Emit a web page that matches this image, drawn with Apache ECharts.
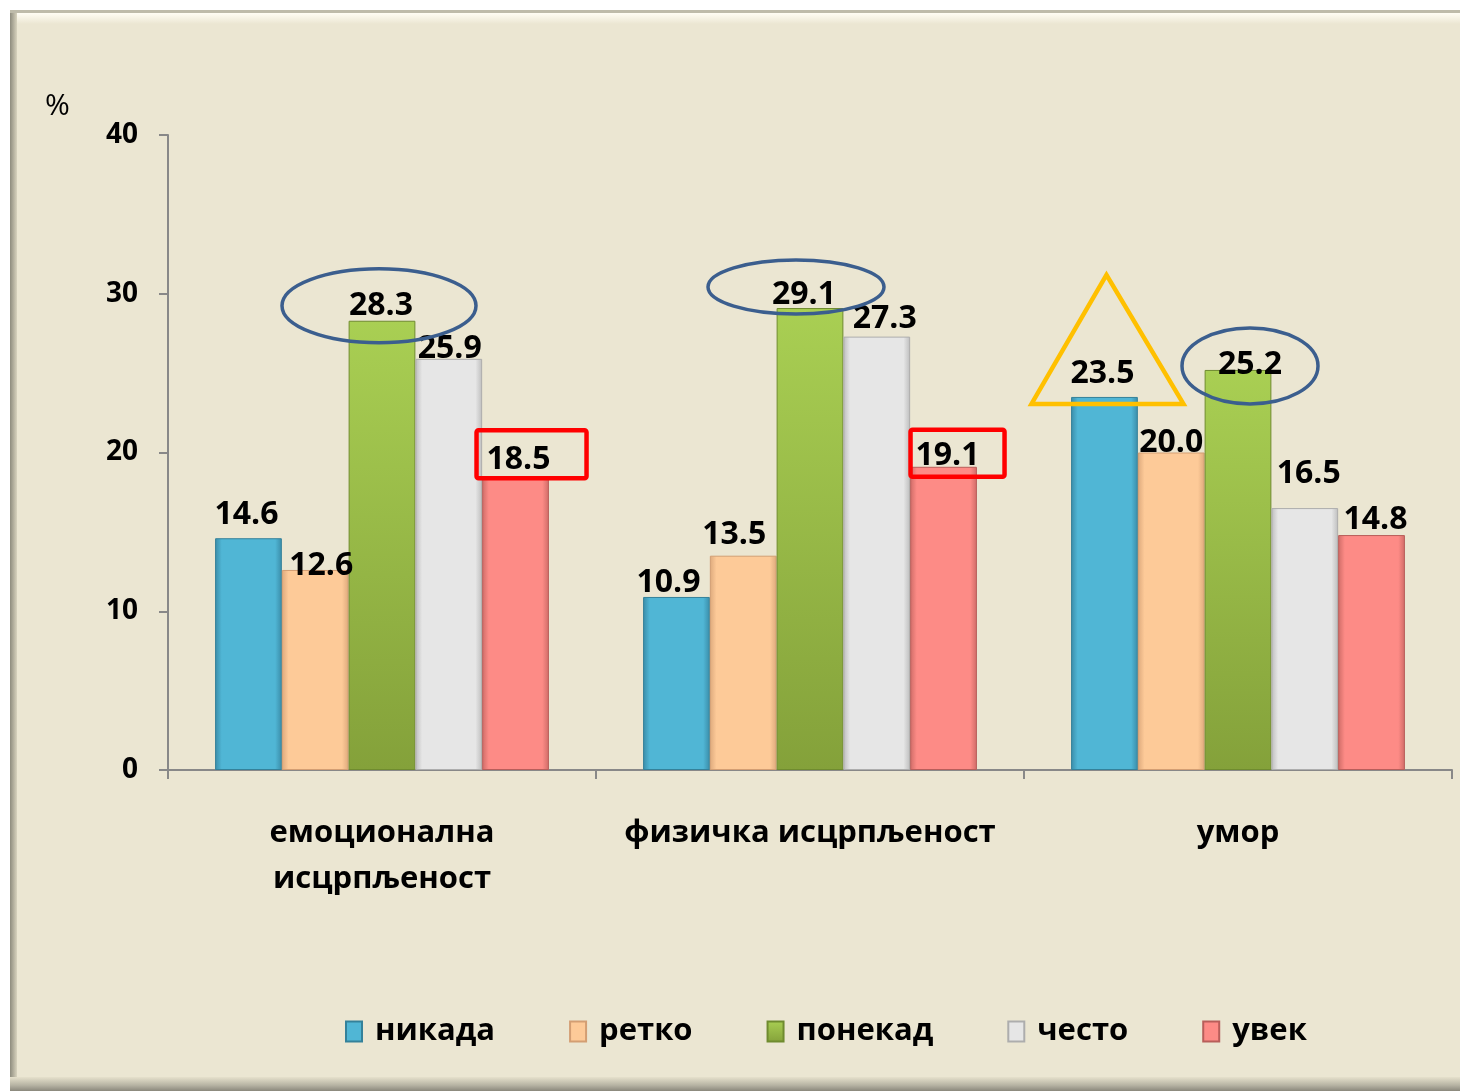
<!DOCTYPE html>
<html>
<head>
<meta charset="utf-8">
<script src="https://cdn.jsdelivr.net/npm/echarts@6/dist/echarts.min.js"></script>
<style>
html,body{margin:0;padding:0;background:#ffffff;}
#chart{width:1460px;height:1091px;}
</style>
</head>
<body>
<div id="chart"></div>
<script>
// ---- data ----
const categories = ['емоционална\nисцрпљеност', 'физичка исцрпљеност', 'умор'];
const seriesNames = ['никада', 'ретко', 'понекад', 'често', 'увек'];
const nikada  = [14.6, 10.9, 23.5];
const retko   = [12.6, 13.5, 20.0];
const ponekad = [28.3, 29.1, 25.2];
const cesto   = [25.9, 27.3, 16.5];
const uvek    = [18.5, 19.1, 14.8];
const yTicks  = [0, 10, 20, 30, 40];

const seriesValues = [nikada, retko, ponekad, cesto, uvek];

// ---- styles ----
const FONT = 'Open Sans';
// per-label nudges (pixels) to mimic the hand-placed labels of the original
const labelNudges = [
  [[-2,-11], [-8,-2], [-2,-11]],
  [[6,8],    [-9,-9], [0,2]],
  [[-1,-3],  [-6,-1], [12,7]],
  [[1,2],    [8,-6],  [4,-22]],
  [[3,-4],   [4,1],   [4,-3]]
];
const palette = [
  {base:'#50B6D5', dark:'#3A8CA8', border:'#34819A'},
  {base:'#FDCA98', dark:'#DDA97C', border:'#D39E73'},
  {base:'#A2C74E', dark:'#84A23A', border:'#6F8B2F'},
  {base:'#E6E6E6', dark:'#BDBDBD', border:'#ADADAD'},
  {base:'#FD8B86', dark:'#CF6C67', border:'#B85E5A'}
];
function barFill(p, i) {
  if (i === 2) {
    return new echarts.graphic.LinearGradient(0, 0, 0, 1, [
      {offset:0, color:'#A9CF53'},
      {offset:1, color:'#84A13A'}
    ]);
  }
  return new echarts.graphic.LinearGradient(0, 0, 1, 0, [
    {offset:0, color:p.dark},
    {offset:0.1, color:p.base},
    {offset:0.9, color:p.base},
    {offset:1, color:p.dark}
  ]);
}

const chart = echarts.init(document.getElementById('chart'), null, {renderer:'canvas'});

const series = seriesNames.map((name, i) => ({
  name: name,
  type: 'bar',
  data: seriesValues[i].map((v, j) => ({value: v, label: {offset: labelNudges[i][j]}})),
  barGap: '0%',
  barCategoryGap: '22%',
  z: 2,
  itemStyle: {
    color: barFill(palette[i], i),
    borderColor: palette[i].border,
    borderWidth: 1
  },
  label: {
    show: true,
    position: 'top',
    distance: -4,
    formatter: (p) => Number(p.value).toFixed(1),
    color: '#000',
    fontFamily: FONT,
    fontWeight: 'bold',
    fontSize: 32
  }
}));

const bgGraphics = [
  {type:'rect', z:-20, shape:{x:10, y:10, width:1450, height:1081}, style:{fill:'#EBE6D2'}},
  {type:'rect', z:-19, shape:{x:10, y:10, width:7, height:1081},
    style:{fill:new echarts.graphic.LinearGradient(0,0,1,0,[{offset:0,color:'#8E8C7E'},{offset:1,color:'#D8D3BE'}])}},
  {type:'rect', z:-19, shape:{x:10, y:10, width:1450, height:3}, style:{fill:'#BEBBAA'}},
  {type:'rect', z:-19, shape:{x:17, y:13, width:1443, height:11},
    style:{fill:new echarts.graphic.LinearGradient(0,0,0,1,[{offset:0,color:'#FFFDF4'},{offset:1,color:'#EBE6D2'}])}},
  {type:'rect', z:-19, shape:{x:10, y:1077, width:1450, height:14},
    style:{fill:new echarts.graphic.LinearGradient(0,0,0,1,[{offset:0,color:'#E6E1CC'},{offset:0.6,color:'#B5B2A2'},{offset:1,color:'#8A887C'}])}}
];

const option = {
  animation: false,
  backgroundColor: '#ffffff',
  title: {
    text: '%',
    left: 40, top: 86,
    textStyle: {fontFamily: FONT, fontSize: 30, fontWeight: 'normal', color: '#000'}
  },
  grid: {left: 168, right: 8, top: 135, bottom: 321, containLabel: false},
  legend: {
    data: seriesNames,
    left: 340, top: 1011,
    itemWidth: 16, itemHeight: 20,
    itemGap: 74,
    icon: 'rect',
    textStyle: {fontFamily: FONT, fontSize: 31, fontWeight: 'bold', color: '#000', padding:[0,0,0,8]}
  },
  xAxis: {
    type: 'category',
    data: categories,
    axisLine: {show: true, lineStyle: {color: '#888888', width: 2}},
    axisTick: {show: true, length: 9, lineStyle: {color: '#888888', width: 2}},
    axisLabel: {
      margin: 40,
      interval: 0,
      color: '#000',
      fontFamily: FONT,
      fontWeight: 'bold',
      fontSize: 31,
      lineHeight: 46
    },
    splitLine: {show: false}
  },
  yAxis: {
    type: 'value',
    min: yTicks[0],
    max: yTicks[yTicks.length - 1],
    interval: yTicks[1] - yTicks[0],
    axisLine: {show: true, lineStyle: {color: '#888888', width: 2}},
    axisTick: {show: true, length: 9, lineStyle: {color: '#888888', width: 2}},
    axisLabel: {
      margin: 30,
      color: '#000',
      fontFamily: FONT,
      fontWeight: 'bold',
      fontSize: 28
    },
    splitLine: {show: false}
  },
  graphic: bgGraphics,
  series: series
};

chart.setOption(option);

// ---- annotations anchored to bar layouts ----
function barTop(seriesIndex, dataIndex) {
  const lay = chart.getModel().getSeriesByIndex(seriesIndex).getData().getItemLayout(dataIndex);
  return {cx: lay.x + lay.width / 2, top: Math.min(lay.y, lay.y + lay.height)};
}
const ELL_COLOR = '#3B5E8E';
const annot = [];
function ellipse(s, d, dx, dy, rx, ry) {
  const b = barTop(s, d);
  annot.push({type:'ellipse', z:100, shape:{cx:b.cx+dx, cy:b.top+dy, rx:rx, ry:ry},
    style:{fill:null, stroke:ELL_COLOR, lineWidth:3.5}});
}
function box(s, d, dx, dy, w, h) {
  const b = barTop(s, d);
  annot.push({type:'rect', z:100, shape:{x:b.cx+dx, y:b.top+dy, width:w, height:h, r:2},
    style:{fill:null, stroke:'#FF0000', lineWidth:4.5}});
}
function triangle(s, d) {
  const b = barTop(s, d);
  annot.push({type:'polygon', z:100, shape:{points:[[b.cx+2, b.top-122],[b.cx+79, b.top+7],[b.cx-73, b.top+7]]},
    style:{fill:null, stroke:'#FFC000', lineWidth:4.5, lineJoin:'miter'}});
}
ellipse(2, 0, -3, -15, 97, 37);
ellipse(2, 1, -14, -21, 88, 27);
ellipse(2, 2, 12, -4, 68, 38);
box(4, 0, -39, -46, 110, 48);
box(4, 1, -33, -37, 94, 47);
triangle(0, 2);

chart.setOption({graphic: bgGraphics.concat(annot)});
</script>
</body>
</html>
